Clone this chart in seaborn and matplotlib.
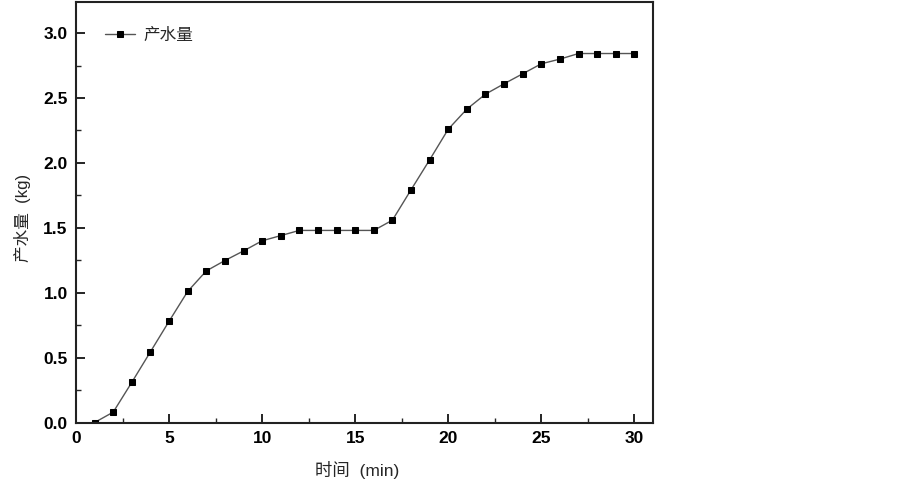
import numpy as np
import pandas as pd
import matplotlib
matplotlib.use("Agg")
import matplotlib.pyplot as plt
import seaborn as sns
from matplotlib.ticker import MultipleLocator

time_min = list(range(1, 31))
water_kg = [0.00, 0.08, 0.31, 0.545, 0.78, 1.01, 1.168, 1.248, 1.322, 1.40,
            1.44, 1.48, 1.48, 1.48, 1.48, 1.48, 1.559, 1.793, 2.024, 2.26,
            2.415, 2.53, 2.61, 2.687, 2.764, 2.80, 2.843, 2.843, 2.843, 2.843]
series_label = "产水量"
x_label = "时间  (min)"
y_label = "产水量  (kg)"

sns.set_theme(style="ticks")
plt.rcParams['font.family'] = ['Liberation Sans', 'Noto Sans CJK SC', 'DejaVu Sans']

df = pd.DataFrame({"t": time_min, "w": water_kg})

fig = plt.figure(figsize=(9.03, 4.86), dpi=100)
ax = fig.add_axes([76/903, 1 - 422.5/486, (653-76)/903, (422.5-2)/486])

sns.lineplot(data=df, x="t", y="w", ax=ax, color="#555555", linewidth=1.0,
             marker="s", markersize=4.5, markerfacecolor="black",
             markeredgecolor="black", label=series_label)

ax.set_xlim(0, 31.0)
ax.set_ylim(0, 3.24)
ax.xaxis.set_major_locator(MultipleLocator(5))
ax.xaxis.set_minor_locator(MultipleLocator(2.5))
ax.yaxis.set_major_locator(MultipleLocator(0.5))
ax.yaxis.set_minor_locator(MultipleLocator(0.25))
ax.yaxis.set_major_formatter(matplotlib.ticker.FormatStrFormatter('%.1f'))
ax.tick_params(which='major', direction='in', length=6.5, width=1.2, labelsize=12.5, colors='black', pad=6)
ax.tick_params(which='minor', direction='in', length=3.5, width=1.0)
for lbl in ax.get_xticklabels() + ax.get_yticklabels():
    lbl.set_fontweight('bold')
for s in ax.spines.values():
    s.set_linewidth(1.5)
    s.set_color('#222222')

ax.set_xlabel(x_label, fontsize=12.5, va='center')
ax.set_ylabel(y_label, fontsize=12, va='center')
ax.xaxis.set_label_coords((357 - 76) / 577, -(470 - 422.5) / 420.5)
ax.yaxis.set_label_coords((22 - 76) / 577, (422.5 - 218) / 420.5)

leg = ax.legend(loc='upper left', frameon=False, fontsize=12,
                bbox_to_anchor=(0.025, 0.975), handlelength=1.8, handletextpad=0.5)

fig.savefig("out.png", dpi=100, facecolor="white")
